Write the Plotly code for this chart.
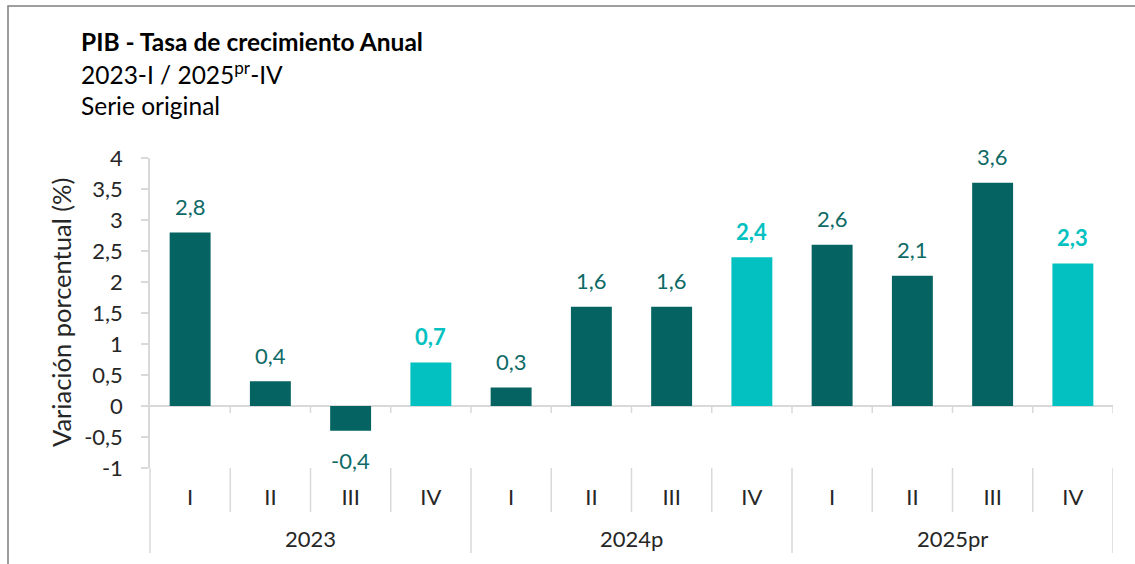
import plotly.graph_objects as go

# Quarterly annual GDP growth (%)
years = ["2023", "2024p", "2025pr"]
quarters = ["I", "II", "III", "IV"]
growth = [2.8, 0.4, -0.4, 0.7, 0.3, 1.6, 1.6, 2.4, 2.6, 2.1, 3.6, 2.3]
value_labels = ["2,8", "0,4", "-0,4", "0,7", "0,3", "1,6", "1,6", "2,4", "2,6", "2,1", "3,6", "2,3"]

y_tickvals = [-1, -0.5, 0, 0.5, 1, 1.5, 2, 2.5, 3, 3.5, 4]
y_ticktext = ["-1", "-0,5", "0", "0,5", "1", "1,5", "2", "2,5", "3", "3,5", "4"]

DARK = "#056361"
CYAN = "#03C1C1"
AXIS = "#D9D9D9"
TEXT = "#262626"
FONT = "Lato"

W, H = 1135, 564
ML, MR, MT, MB = 150, 22, 158, 96
PW, PH = W - ML - MR, H - MT - MB


def px_to_paper_y(py):
    return (H - MB - py) / PH


def px_to_paper_x(px):
    return (px - ML) / PW


n = len(growth)
xpos = list(range(n))
quarter_labels = [q for _ in years for q in quarters]
colors = [CYAN if q == "IV" else DARK for q in quarter_labels]

fig = go.Figure(
    go.Bar(x=xpos, y=growth, marker=dict(color=colors, line=dict(width=0)),
           hoverinfo="skip")
)

annotations = []
# value labels above / below each bar
for i, (v, t, q) in enumerate(zip(growth, value_labels, quarter_labels)):
    is_iv = q == "IV"
    annotations.append(dict(
        x=i, y=v, xref="x", yref="y", text=f"<b>{t}</b>" if is_iv else t,
        showarrow=False, yshift=26 if v >= 0 else -30,
        font=dict(family=FONT, size=22, color=CYAN if is_iv else "#0E6A66"),
    ))

# year labels centred under their quarters
for k, yname in enumerate(years):
    annotations.append(dict(
        x=k * 4 + 1.5, y=px_to_paper_y(538), xref="x", yref="paper",
        text=yname, showarrow=False, yanchor="middle",
        font=dict(family=FONT, size=22, color=TEXT),
    ))

# heading lines
heading = [
    ("<b>PIB - Tasa de crecimiento Anual</b>", 42, 24.5),
    ("2023-I / 2025<sup>pr</sup>-IV", 73, 24.5),
    ("Serie original", 105, 24.5),
]
for txt, py, fs in heading:
    annotations.append(dict(
        x=px_to_paper_x(79), y=px_to_paper_y(py), xref="paper", yref="paper",
        text=txt, showarrow=False, xanchor="left", yanchor="middle",
        font=dict(family=FONT, size=fs, color="#000000"),
    ))

# y axis title
annotations.append(dict(
    x=px_to_paper_x(61), y=0.5, xref="paper", yref="paper",
    text="Variación porcentual (%)", showarrow=False, textangle=-90,
    xanchor="center", yanchor="middle",
    font=dict(family=FONT, size=25.5, color=TEXT),
))

shapes = []
# small ticks on the zero line at category boundaries
for k in range(1, n + 1):
    shapes.append(dict(
        type="line", xref="x", yref="y", x0=k - 0.5, x1=k - 0.5,
        ysizemode="pixel", yanchor=0, y0=0, y1=-7,
        line=dict(color=AXIS, width=1.5),
    ))
# dividers between quarters and longer dividers between years
for k in range(1, n + 1):
    long_div = k % 4 == 0
    shapes.append(dict(
        type="line", xref="x", yref="paper", x0=k - 0.5, x1=k - 0.5,
        y0=px_to_paper_y(468), y1=px_to_paper_y(553 if long_div else 512),
        line=dict(color=AXIS, width=1.5),
    ))
# left axis continued down through the category band
shapes.append(dict(
    type="line", xref="paper", yref="paper", x0=0, x1=0,
    y0=0, y1=px_to_paper_y(553), line=dict(color=AXIS, width=1.5),
))
# chart frame
shapes.append(dict(
    type="rect", xref="paper", yref="paper",
    x0=px_to_paper_x(8), x1=px_to_paper_x(1200),
    y0=px_to_paper_y(6), y1=px_to_paper_y(620),
    line=dict(color="#7F7F7F", width=1.5),
))

fig.update_layout(
    width=W, height=H,
    margin=dict(l=ML, r=MR, t=MT, b=MB),
    paper_bgcolor="white", plot_bgcolor="white",
    bargap=0.49, showlegend=False,
    annotations=annotations, shapes=shapes,
    font=dict(family=FONT, size=22, color=TEXT),
    xaxis=dict(
        range=[-0.5, n - 0.5], tickvals=xpos, ticktext=quarter_labels,
        showgrid=False, zeroline=False, showline=False, ticks="",
        ticklabelstandoff=14,
        tickfont=dict(family=FONT, size=22, color=TEXT),
    ),
    yaxis=dict(
        range=[-1, 4], tickvals=y_tickvals, ticktext=y_ticktext,
        showgrid=False, zeroline=True, zerolinecolor=AXIS, zerolinewidth=1.5,
        showline=True, linecolor=AXIS, linewidth=1.5,
        ticks="outside", ticklen=7, tickcolor=AXIS, tickwidth=1.5,
        ticklabelstandoff=14,
        tickfont=dict(family=FONT, size=22, color=TEXT),
    ),
)

fig.write_html("out.html")
